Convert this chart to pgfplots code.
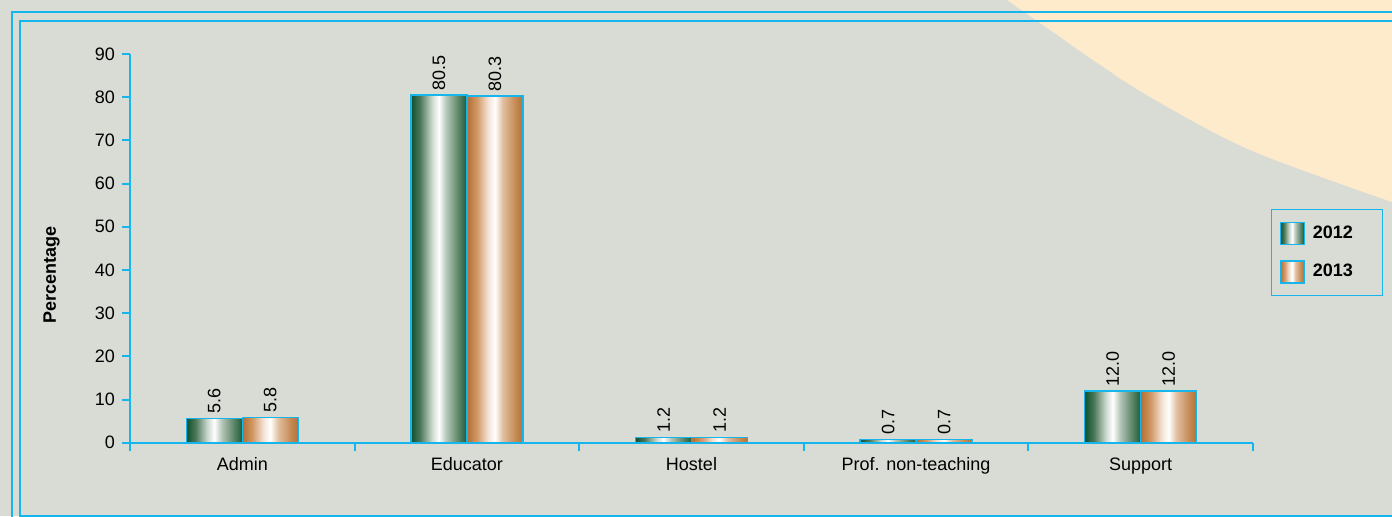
\documentclass[border=0pt]{standalone}
\usepackage{fontspec}
\setmainfont{Liberation Sans}
\usepackage{pgfplots}
\pgfplotsset{compat=1.18}
\pgfkeys{/pgf/number format/assume math mode=true}
\definecolor{bg}{RGB}{217,220,213}
\definecolor{cream}{RGB}{254,235,204}
\definecolor{frame}{RGB}{22,182,236}
\definecolor{ga}{RGB}{12,82,46}
\definecolor{gb}{RGB}{75,118,88}
\definecolor{gc}{RGB}{205,218,208}
\definecolor{gd}{RGB}{185,202,190}
\definecolor{ge}{RGB}{95,135,105}
\definecolor{gf}{RGB}{28,92,58}
\definecolor{ba}{RGB}{180,110,50}
\definecolor{bb}{RGB}{208,152,102}
\definecolor{bc}{RGB}{245,228,215}
\definecolor{bd}{RGB}{225,190,160}
\definecolor{be}{RGB}{194,135,80}
\definecolor{bf}{RGB}{180,114,55}
\pgfdeclarehorizontalshading{greenbar}{100bp}{color(0bp)=(ga); color(25bp)=(ga); color(33bp)=(gb); color(44bp)=(gc); color(50bp)=(white); color(56bp)=(gd); color(67bp)=(ge); color(75bp)=(gf); color(100bp)=(gf)}
\pgfdeclarehorizontalshading{brownbar}{100bp}{color(0bp)=(ba); color(25bp)=(ba); color(34bp)=(bb); color(44bp)=(bc); color(50bp)=(white); color(57bp)=(bd); color(69bp)=(be); color(75bp)=(bf); color(100bp)=(bf)}
\tikzset{nnc/.style={rotate=90, anchor=west, font=\fontsize{9}{10}\selectfont, text=black, inner sep=2pt}}
\pgfplotsset{
  gbar/.style={ybar, bar width=28pt, bar shift=-14pt, shading=greenbar, draw=frame, line width=0.7pt,
    every node near coord/.style={xshift=-14pt, nnc}},
  bbar/.style={ybar, bar width=28pt, bar shift=14pt, shading=brownbar, draw=frame, line width=0.7pt,
    every node near coord/.style={xshift=14pt, nnc}},
}
\begin{document}
\begin{tikzpicture}
\useasboundingbox (0,0) rectangle (696pt,-258pt);
\fill[bg] (0,0) rectangle (696pt,-258pt);
\fill[cream] plot[smooth, tension=0.5] coordinates {(503.5pt,0pt) (526.5pt,-16pt) (546.5pt,-30pt) (575pt,-48.5pt) (625pt,-75pt) (696pt,-101pt)} -- (700pt,-101pt) -- (700pt,2pt) -- (503.5pt,2pt) -- cycle;
\draw[frame, line width=1pt] (5.75pt,-270pt) -- (5.75pt,-6pt) -- (710pt,-6pt);
\draw[frame, line width=1pt] (710pt,-257.75pt) -- (10pt,-257.75pt) -- (10pt,-10.5pt) -- (710pt,-10.5pt);
\begin{axis}[
  at={(65pt,-221.35pt)}, anchor=south west,
  scale only axis, width=561.5pt, height=194.35pt,
  xmin=-0.5, xmax=4.5, ymin=0, ymax=90,
  axis lines=left, axis line style={-, draw=frame, line width=1pt},
  ytick={0,10,...,90},
  xtick={0,1,2,3,4},
  xticklabels={Admin,Educator,Hostel,Prof. non-teaching,Support},
  minor xtick={-0.5,0.5,1.5,2.5,3.5,4.5},
  tick align=outside,
  major tick length=4pt, minor tick length=4pt,
  major x tick style={draw=none},
  minor x tick style={draw=frame, line width=1pt},
  y tick style={draw=frame, line width=1pt},
  tick label style={font=\fontsize{9}{10}\selectfont, text=black},
  ylabel={Percentage},
  ylabel style={at={(axis description cs:-0.0659,0.431)}, anchor=base, font=\bfseries\fontsize{9}{10}\selectfont},
  nodes near coords={\pgfmathprintnumber[fixed,fixed zerofill,precision=1]{\pgfplotspointmeta}},
  legend style={at={(axis description cs:1.016,0.601)}, anchor=north west, draw=frame, line width=0.6pt, fill=none, font=\bfseries\fontsize{9}{10}\selectfont, row sep=7.5pt, inner xsep=4pt, inner ysep=6pt, nodes={inner xsep=4pt}},
  legend cell align=left,
  legend image code/.code={\draw[#1, draw=frame, line width=0.6pt] (0pt,-5.5pt) rectangle (12pt,5.5pt);},
]
\addplot[gbar] coordinates {(0,5.6)};
\addplot[bbar] coordinates {(0,5.8)};
\addplot[gbar, forget plot] coordinates {(1,80.5)};
\addplot[bbar, forget plot] coordinates {(1,80.3)};
\addplot[gbar, forget plot] coordinates {(2,1.2)};
\addplot[bbar, forget plot] coordinates {(2,1.2)};
\addplot[gbar, forget plot] coordinates {(3,0.7)};
\addplot[bbar, forget plot] coordinates {(3,0.7)};
\addplot[gbar, forget plot] coordinates {(4,12.0)};
\addplot[bbar, forget plot] coordinates {(4,12.0)};
\legend{2012\hspace*{7pt},2013\hspace*{7pt}}
\end{axis}
\end{tikzpicture}
\end{document}
